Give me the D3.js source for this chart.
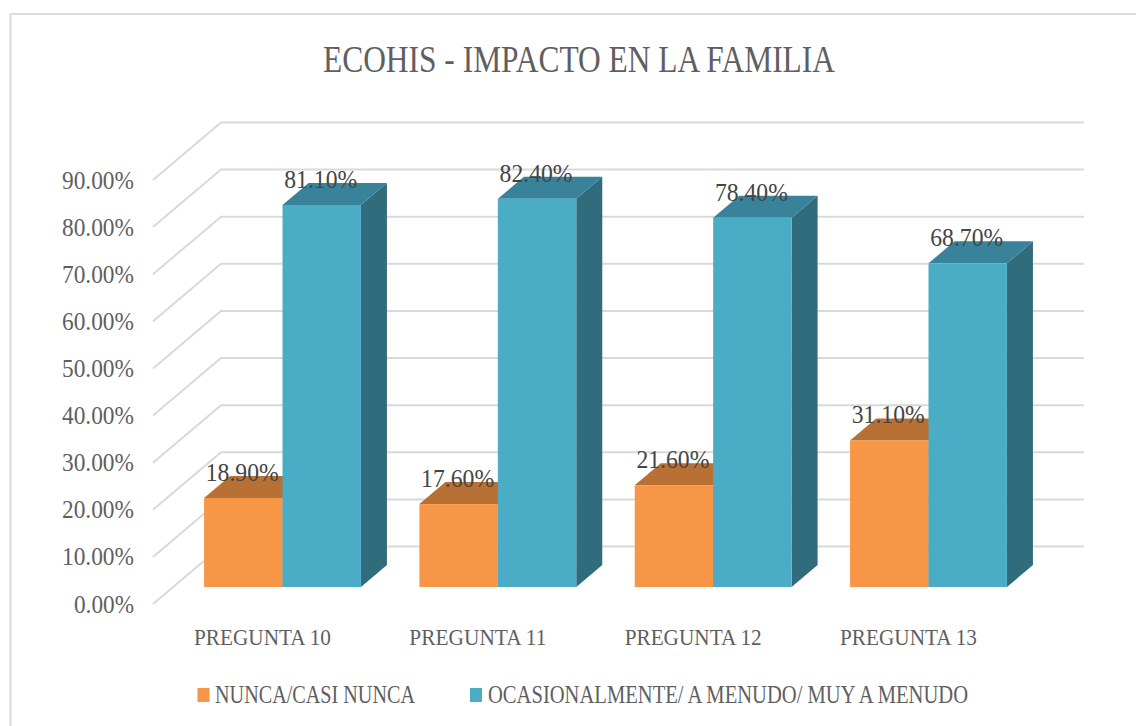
<!DOCTYPE html>
<html><head><meta charset="utf-8">
<script src="https://cdn.jsdelivr.net/npm/d3@7/dist/d3.min.js"></script>
<style>html,body{margin:0;background:#fff}svg{display:block}text{font-family:"Liberation Serif",serif}</style>
</head><body><svg id="c" width="1136" height="726"></svg>
<script>
const categories = ["PREGUNTA 10","PREGUNTA 11","PREGUNTA 12","PREGUNTA 13"];
const seriesNames = ["NUNCA/CASI NUNCA","OCASIONALMENTE/ A MENUDO/ MUY A MENUDO"];
const nunca = [18.9,17.6,21.6,31.1];
const ocasional = [81.1,82.4,78.4,68.7];
const yTicks = [0,10,20,30,40,50,60,70,80,90];
const titleText = "ECOHIS - IMPACTO EN LA FAMILIA";

const svg = d3.select("#c");
const fmt = v => v.toFixed(2) + "%";
const y = d3.scaleLinear().domain([0,90]).range([587,163]);
const x0 = d3.scaleBand().domain(categories).range([175,1036]).paddingInner(0.2715).paddingOuter(0.135);
const x1 = d3.scaleBand().domain([0,1]).range([0,x0.bandwidth()]);
const dx = 26, dy = 22;
const palette = [
 {front:"#f79646",top:"#b97034",side:"#b97034"},
 {front:"#4bacc6",top:"#38829a",side:"#306c7c"}];
const grid = "#d9d9d9";
const textGrey = "#5f5f5f";

svg.append("path").attr("d","M10.5,726V14H1136").attr("fill","none")
   .attr("stroke","#dcdcdc").attr("stroke-width",2);

svg.append("text").attr("x",579).attr("y",72).attr("text-anchor","middle")
   .attr("font-size",37).attr("fill",textGrey).attr("textLength",512).attr("lengthAdjust","spacingAndGlyphs").text(titleText);

const gridG = svg.append("g").attr("fill","none").attr("stroke",grid).attr("stroke-width",2);
gridG.selectAll("path").data(yTicks).join("path")
  .attr("d",t=>{const yy=y(t)+17;return `M153,${yy}L221,${yy-57.5}H1084`;});

svg.append("g").selectAll("text").data(yTicks).join("text")
  .attr("x",134).attr("y",t=>y(t)+25.5).attr("text-anchor","end")
  .attr("font-size",26).attr("fill",textGrey)
  .attr("textLength",t=>t===0?60:72).attr("lengthAdjust","spacingAndGlyphs").text(fmt);

const rows = categories.map((c,i)=>({c,vals:[nunca[i],ocasional[i]]}));
const g = svg.append("g");
rows.forEach(r=>{
  [0,1].forEach(s=>{
    const v=r.vals[s], left=x0(r.c)+x1(s), w=x1.bandwidth(), top=y(v), bot=y(0), p=palette[s];
    g.append("path").attr("fill",p.side).attr("d",`M${left+w},${top}l${dx},${-dy}V${bot-dy}L${left+w},${bot}Z`);
    g.append("path").attr("fill",p.top).attr("d",`M${left},${top}l${dx},${-dy}h${w}l${-dx},${dy}Z`);
    g.append("rect").attr("x",left).attr("y",top).attr("width",w).attr("height",bot-top).attr("fill",p.front);
  });
});
rows.forEach(r=>{
  [0,1].forEach(s=>{
    svg.append("text").attr("x",x0(r.c)+x1(s)+x1.bandwidth()/2-1).attr("y",y(r.vals[s])-17)
      .attr("text-anchor","middle").attr("font-size",26).attr("fill","#454545")
      .attr("textLength",73).attr("lengthAdjust","spacingAndGlyphs").text(fmt(r.vals[s]));
  });
});
svg.append("g").selectAll("text").data(categories).join("text")
  .attr("x",c=>x0(c)+x0.bandwidth()/2-20).attr("y",645).attr("text-anchor","middle")
  .attr("font-size",24).attr("fill",textGrey)
  .attr("textLength",137).attr("lengthAdjust","spacingAndGlyphs").text(c=>c);
const legX=[197.5,470], legTx=[215,488], legW=[200,480];
seriesNames.forEach((n,i)=>{
  svg.append("rect").attr("x",legX[i]).attr("y",688).attr("width",12).attr("height",14).attr("fill",palette[i].front);
  svg.append("text").attr("x",legTx[i]).attr("y",703).attr("font-size",25).attr("fill",textGrey)
    .attr("textLength",legW[i]).attr("lengthAdjust","spacingAndGlyphs").text(n);
});
</script></body></html>
